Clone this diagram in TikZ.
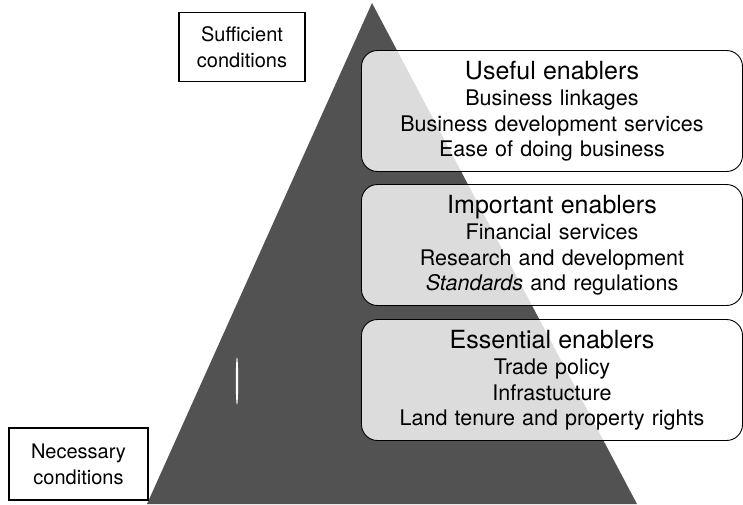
\documentclass[tikz,border=0pt]{standalone}
\usepackage{fontspec}
\setmainfont{TeX Gyre Heros}
\usetikzlibrary{positioning}

\tikzset{
  pyramid/.style={fill=black!68},
  tier/.style={draw, line width=0.9pt, rounded corners=16pt, fill=white, fill opacity=0.8, text opacity=1,
    minimum width=381pt, minimum height=121pt, text width=375pt, align=center, inner sep=0pt,
    font=\fontsize{21.5}{25.5}\selectfont},
  condition/.style={draw, line width=1.2pt, fill=white, align=center, inner sep=0pt,
    font=\fontsize{20}{26}\selectfont}
}
\newcommand{\tiername}[1]{{\fontsize{25}{26}\selectfont #1}\\[1pt]}

\begin{document}
\begin{tikzpicture}[x=1pt,y=-1pt]
				\useasboundingbox (0,0) rectangle (743,504);
				% the pyramid
				\fill[pyramid] (372,3) -- (637,504) -- (147,504) -- cycle;
				\fill[white] (237,381) ellipse [x radius=1.2, y radius=24];
				% the three tiers
				\node[tier] (useful) at (552,111) {\tiername{Useful enablers}Business linkages\\Business development services\\Ease of doing business};
				\node[tier] (important) at (552,245) {\tiername{Important enablers}Financial services\\Research and development\\\textit{Standards} and regulations};
				\node[tier] (essential) at (552,380) {\tiername{Essential enablers}Trade policy\\Infrastucture\\Land tenure and property rights};
				% the two conditions
				\node[condition, minimum width=126pt, minimum height=69pt] (sufficient) at (242,47) {Sufficient\\conditions};
				\node[condition, minimum width=139pt, minimum height=72pt] (necessary) at (78.5,464) {Necessary\\conditions};
\end{tikzpicture}
\end{document}
